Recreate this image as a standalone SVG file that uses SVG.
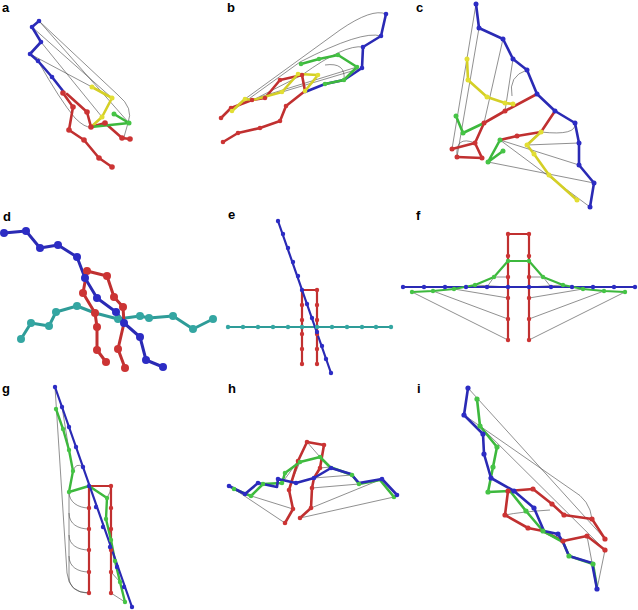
<svg xmlns="http://www.w3.org/2000/svg" width="638" height="610" viewBox="0 0 638 610">
<style>
.lbl{font-family:"Liberation Sans",Arial,sans-serif;font-weight:bold;font-size:13px;fill:#000}
.g{fill:none;stroke:#444;stroke-width:0.6}
.t{fill:none;stroke-width:2.6;stroke-linejoin:round;stroke-linecap:round}
.tb{stroke:#2a2ab4}.tr{stroke:#c03030}.ty{stroke:#d4cf26}.tg{stroke:#3db83d}.tt{stroke:#2e9c98}
.bb circle{fill:#2c2cc4}.br circle{fill:#cc3434}.by circle{fill:#e2de34}.bg circle{fill:#46c446}.bt circle{fill:#34a6a2}
</style>
<rect width="638" height="610" fill="#fff"/>
<g id="labels">
<text class="lbl" x="2" y="12">a</text><text class="lbl" x="227" y="12">b</text><text class="lbl" x="416" y="12">c</text>
<text class="lbl" x="3" y="221">d</text><text class="lbl" x="228" y="219">e</text><text class="lbl" x="416" y="220">f</text>
<text class="lbl" x="2" y="393">g</text><text class="lbl" x="228" y="393">h</text><text class="lbl" x="417" y="393">i</text>
</g>
<!-- panel a -->
<g id="panel-a">
<path class="g" d="M39,21 L118,95 Q134,108 128,123 L124,137 M32,27 L112,98 M41,42 L102,117 M30,54 L92,87 M38,61 Q60,100 75,118 Q85,128 91,127 M39,21 L129,123"/>
<polyline class="t tb" points="39,21 32,27 41,42 30,54 38,61 52,77 63,91"/>
<polyline class="t tr" points="63,93 73,107 69,130 84,140 99,158 112,167"/>
<polyline class="t tr" points="67,94 87,112 91,127 105,123 122,138 130,139"/>
<polyline class="t ty" points="92,87 112,98 102,117 91,127"/>
<polyline class="t tg" points="114,114 129,123 91,127"/>
<g class="bb"><circle cx="39" cy="21" r="2.3"/><circle cx="32" cy="27" r="2.3"/><circle cx="41" cy="42" r="2.3"/><circle cx="30" cy="54" r="2.3"/><circle cx="38" cy="61" r="2.3"/><circle cx="52" cy="77" r="2.3"/></g>
<g class="br"><circle cx="63" cy="93" r="2.8"/><circle cx="73" cy="107" r="2.8"/><circle cx="69" cy="130" r="2.8"/><circle cx="84" cy="140" r="2.8"/><circle cx="99" cy="158" r="2.8"/><circle cx="112" cy="167" r="2.8"/><circle cx="87" cy="112" r="2.8"/><circle cx="91" cy="127" r="2.8"/><circle cx="105" cy="123" r="2.8"/><circle cx="122" cy="138" r="2.8"/><circle cx="130" cy="139" r="2.8"/></g>
<g class="by"><circle cx="92" cy="87" r="2.5"/><circle cx="112" cy="98" r="2.5"/><circle cx="102" cy="117" r="2.5"/></g>
<g class="bg"><circle cx="114" cy="114" r="2.5"/><circle cx="129" cy="123" r="2.5"/></g>
</g>
<!-- panel b -->
<g id="panel-b">
<path class="g" d="M386,14 Q372,8 340,30 L245,99 M381,36 Q362,30 300,62 L232,111 M363,47 Q345,44 302,75 L253,100 M357,67 L260,97 M325,65 Q346,62 344,80 M362,68 L282,92"/>
<polyline class="t tb" points="386,14 381,36 363,47 362,68 344,80 325,84 305,92"/>
<polyline class="t tg" points="301,64 319,59 338,55 357,67 344,80 325,84"/>
<polyline class="t tr" points="302,75 305,91 286,106 280,121 260,128 238,133 223,142"/>
<polyline class="t tr" points="302,75 280,80 265,98 252,100 231,108 221,118"/>
<polyline class="t ty" points="318,75 298,74 282,92 253,100 245,99 232,111"/>
<polyline class="t ty" points="318,75 305,91"/>
<g class="bb"><circle cx="386" cy="14" r="2.3"/><circle cx="381" cy="36" r="2.3"/><circle cx="363" cy="47" r="2.3"/><circle cx="362" cy="68" r="2.3"/></g>
<g class="bg"><circle cx="301" cy="64" r="2.3"/><circle cx="319" cy="59" r="2.3"/><circle cx="338" cy="55" r="2.3"/><circle cx="357" cy="67" r="2.3"/><circle cx="344" cy="80" r="2.3"/><circle cx="325" cy="84" r="2.3"/></g>
<g class="br"><circle cx="302" cy="75" r="2.3"/><circle cx="286" cy="106" r="2.3"/><circle cx="280" cy="121" r="2.3"/><circle cx="260" cy="128" r="2.3"/><circle cx="238" cy="133" r="2.3"/><circle cx="223" cy="142" r="2.3"/><circle cx="280" cy="80" r="2.3"/><circle cx="265" cy="98" r="2.3"/><circle cx="252" cy="100" r="2.3"/><circle cx="231" cy="108" r="2.3"/><circle cx="221" cy="118" r="2.3"/></g>
<g class="by"><circle cx="318" cy="75" r="2.3"/><circle cx="298" cy="74" r="2.3"/><circle cx="282" cy="92" r="2.3"/><circle cx="245" cy="99" r="2.3"/><circle cx="232" cy="111" r="2.3"/><circle cx="305" cy="91" r="2.3"/></g>
</g>
<!-- panel c -->
<g id="panel-c">
<path class="g" d="M476,4 L452,149 M479,28 L457,157 M503,39 L484,123 M513,59 L505,111 M527,70 Q508,76 512,96 M575,123 Q577,136 541,132 M579,143 L527,145 M579,165 L500,140 M594,183 L488,162 M590,207 L500,140 M475,143 Q455,135 457,157 M541,132 Q530,140 527,145"/>
<polyline class="t tb" points="476,4 479,28 503,39 513,59 527,70 537,94 555,111 575,123 579,143 579,165 594,183 590,207"/>
<polyline class="t ty" points="467,59 468,80 487,97 505,103 513,104"/>
<polyline class="t tr" points="537,94 505,111 484,123 475,143 452,149"/>
<polyline class="t tr" points="555,111 541,132 517,136 500,140"/>
<polyline class="t tr" points="475,143 482,158 457,157"/>
<polyline class="t tg" points="456,116 463,133 484,123"/>
<polyline class="t tg" points="500,140 488,162 503,151"/>
<polyline class="t ty" points="541,132 527,145 534,154 549,175 577,200"/>
<g class="bb"><circle cx="476" cy="4" r="2.5"/><circle cx="479" cy="28" r="2.5"/><circle cx="503" cy="39" r="2.5"/><circle cx="513" cy="59" r="2.5"/><circle cx="527" cy="70" r="2.5"/><circle cx="537" cy="94" r="2.5"/><circle cx="555" cy="111" r="2.5"/><circle cx="575" cy="123" r="2.5"/><circle cx="579" cy="143" r="2.5"/><circle cx="579" cy="165" r="2.5"/><circle cx="594" cy="183" r="2.5"/><circle cx="590" cy="207" r="2.5"/></g>
<g class="by"><circle cx="467" cy="59" r="2.5"/><circle cx="468" cy="80" r="2.5"/><circle cx="487" cy="97" r="2.5"/><circle cx="505" cy="103" r="2.5"/><circle cx="513" cy="104" r="2.5"/><circle cx="541" cy="132" r="2.5"/><circle cx="527" cy="145" r="2.5"/><circle cx="534" cy="154" r="2.5"/><circle cx="549" cy="175" r="2.5"/><circle cx="577" cy="200" r="2.5"/></g>
<g class="br"><circle cx="505" cy="111" r="2.5"/><circle cx="484" cy="123" r="2.5"/><circle cx="475" cy="143" r="2.5"/><circle cx="452" cy="149" r="2.5"/><circle cx="517" cy="136" r="2.5"/><circle cx="482" cy="158" r="2.5"/><circle cx="457" cy="157" r="2.5"/></g>
<g class="bg"><circle cx="456" cy="116" r="2.5"/><circle cx="463" cy="133" r="2.5"/><circle cx="500" cy="140" r="2.5"/><circle cx="488" cy="162" r="2.5"/><circle cx="503" cy="151" r="2.5"/></g>
</g>
<!-- panel d -->
<g id="panel-d">
<polyline class="t tt" style="stroke-width:3" points="21,339 31,323 49,326 56,312 77,306 95,313 118,319 140,316 149,318 173,316 193,329 213,319"/>
<polyline class="t tr" style="stroke-width:3" points="87,271 107,276 114,297 123,307 124,323 118,349 125,368"/>
<polyline class="t tr" style="stroke-width:3" points="87,271 83,293 95,313 97,327 97,350 106,362"/>
<polyline class="t tb" style="stroke-width:3" points="4,233 26,231 40,248 58,245 77,257 85,278 97,298 116,312 124,323 140,337 146,360 163,367"/>
<g class="bt"><circle cx="21" cy="339" r="4"/><circle cx="31" cy="323" r="4"/><circle cx="49" cy="326" r="4"/><circle cx="56" cy="312" r="4"/><circle cx="77" cy="306" r="4"/><circle cx="118" cy="319" r="4"/><circle cx="140" cy="316" r="4"/><circle cx="149" cy="318" r="4"/><circle cx="173" cy="316" r="4"/><circle cx="193" cy="329" r="4"/><circle cx="213" cy="319" r="4"/></g>
<g class="br"><circle cx="87" cy="271" r="4"/><circle cx="107" cy="276" r="4"/><circle cx="114" cy="297" r="4"/><circle cx="123" cy="307" r="4"/><circle cx="118" cy="349" r="4"/><circle cx="125" cy="368" r="4"/><circle cx="83" cy="293" r="4"/><circle cx="95" cy="313" r="4"/><circle cx="97" cy="327" r="4"/><circle cx="97" cy="350" r="4"/><circle cx="106" cy="362" r="4"/></g>
<g class="bb"><circle cx="4" cy="233" r="4"/><circle cx="26" cy="231" r="4"/><circle cx="40" cy="248" r="4"/><circle cx="58" cy="245" r="4"/><circle cx="77" cy="257" r="4"/><circle cx="85" cy="278" r="4"/><circle cx="97" cy="298" r="4"/><circle cx="116" cy="312" r="4"/><circle cx="124" cy="323" r="4"/><circle cx="140" cy="337" r="4"/><circle cx="146" cy="360" r="4"/><circle cx="163" cy="367" r="4"/></g>
</g>
<!-- panel e -->
<g id="panel-e">
<polyline class="t tt" style="stroke-width:2.2" points="228,327 391,327"/>
<polyline class="t tr" style="stroke-width:2.2" points="302,364 302,290 317,290 317,364"/>
<polyline class="t tb" style="stroke-width:2.2" points="278,221 331,373"/>
<g class="bt"><circle cx="228" cy="327" r="2.2"/><circle cx="243" cy="327" r="2.2"/><circle cx="258" cy="327" r="2.2"/><circle cx="273" cy="327" r="2.2"/><circle cx="288" cy="327" r="2.2"/><circle cx="302" cy="327" r="2.2"/><circle cx="317" cy="327" r="2.2"/><circle cx="332" cy="327" r="2.2"/><circle cx="347" cy="327" r="2.2"/><circle cx="362" cy="327" r="2.2"/><circle cx="376" cy="327" r="2.2"/><circle cx="391" cy="327" r="2.2"/></g>
<g class="br"><circle cx="302" cy="305" r="2.2"/><circle cx="302" cy="320" r="2.2"/><circle cx="302" cy="334" r="2.2"/><circle cx="302" cy="349" r="2.2"/><circle cx="302" cy="364" r="2.2"/><circle cx="317" cy="290" r="2.2"/><circle cx="317" cy="305" r="2.2"/><circle cx="317" cy="320" r="2.2"/><circle cx="317" cy="334" r="2.2"/><circle cx="317" cy="349" r="2.2"/><circle cx="317" cy="364" r="2.2"/></g>
<g class="bb"><circle cx="278" cy="221" r="2.2"/><circle cx="283" cy="234" r="2.2"/><circle cx="288" cy="248" r="2.2"/><circle cx="293" cy="262" r="2.2"/><circle cx="298" cy="276" r="2.2"/><circle cx="302" cy="290" r="2.2"/><circle cx="307" cy="304" r="2.2"/><circle cx="312" cy="318" r="2.2"/><circle cx="317" cy="332" r="2.2"/><circle cx="322" cy="346" r="2.2"/><circle cx="326" cy="359" r="2.2"/><circle cx="331" cy="373" r="2.2"/></g>
</g>
<!-- panel f -->
<g id="panel-f">
<path class="g" d="M412,292 L508,340 M433,291 L508,319 M454,289 L508,298 M475,285 L508,287 M487,287 L494,277 M494,277 L508,277 M625,292 L529,340 M604,291 L529,319 M583,289 L529,298 M563,285 L529,287 M551,287 L543,277 M543,277 L529,277"/>
<polyline class="t tr" style="stroke-width:2.2" points="508,340 508,234 529,234 529,340"/>
<polyline class="t tb" style="stroke-width:2.2" points="403,287 635,287"/>
<polyline class="t tg" style="stroke-width:2.2" points="412,292 433,291 454,289 475,285 494,277 508,261 529,261 543,277 563,285 583,289 604,291 625,292"/>
<g class="br"><circle cx="508" cy="234" r="2.2"/><circle cx="508" cy="256" r="2.2"/><circle cx="508" cy="277" r="2.2"/><circle cx="508" cy="298" r="2.2"/><circle cx="508" cy="319" r="2.2"/><circle cx="508" cy="340" r="2.2"/><circle cx="529" cy="234" r="2.2"/><circle cx="529" cy="256" r="2.2"/><circle cx="529" cy="277" r="2.2"/><circle cx="529" cy="298" r="2.2"/><circle cx="529" cy="319" r="2.2"/><circle cx="529" cy="340" r="2.2"/></g>
<g class="bb"><circle cx="403" cy="287" r="2.2"/><circle cx="424" cy="287" r="2.2"/><circle cx="445" cy="287" r="2.2"/><circle cx="466" cy="287" r="2.2"/><circle cx="487" cy="287" r="2.2"/><circle cx="508" cy="287" r="2.2"/><circle cx="529" cy="287" r="2.2"/><circle cx="551" cy="287" r="2.2"/><circle cx="572" cy="287" r="2.2"/><circle cx="593" cy="287" r="2.2"/><circle cx="614" cy="287" r="2.2"/><circle cx="635" cy="287" r="2.2"/></g>
<g class="bg"><circle cx="412" cy="292" r="2.2"/><circle cx="433" cy="291" r="2.2"/><circle cx="454" cy="289" r="2.2"/><circle cx="475" cy="285" r="2.2"/><circle cx="494" cy="277" r="2.2"/><circle cx="508" cy="261" r="2.2"/><circle cx="529" cy="261" r="2.2"/><circle cx="543" cy="277" r="2.2"/><circle cx="563" cy="285" r="2.2"/><circle cx="583" cy="289" r="2.2"/><circle cx="604" cy="291" r="2.2"/><circle cx="625" cy="292" r="2.2"/></g>
</g>
<!-- panel g -->
<g id="panel-g">
<path class="g" d="M55,387 L67,573 Q69,593 89,593 M62,407 L69,450 M69,492 C69,502 78,508 89,508 M69,492 L69,513 C69,524 78,529 89,529 M69,513 L69,535 C69,545 78,550 89,550 M69,535 L69,556 C69,567 78,572 89,572 M69,556 L69,577 C69,588 78,593 89,593 M73,471 Q76,462 83,467 M107,498 Q111,492 111,486 M120,582 L111,572 M125,602 L111,593"/>
<polyline class="t tr" style="stroke-width:2.2" points="89,593 89,486 111,486 111,593"/>
<polyline class="t tg" style="stroke-width:2.4" points="56,409 63,429 69,450 73,471 69,492 89,486 107,498 106,519 111,540 115,561 120,582 125,602"/>
<polyline class="t tb" style="stroke-width:2.2" points="55,387 132,607"/>
<g class="br"><circle cx="89" cy="508" r="2.2"/><circle cx="89" cy="529" r="2.2"/><circle cx="89" cy="550" r="2.2"/><circle cx="89" cy="572" r="2.2"/><circle cx="89" cy="593" r="2.2"/><circle cx="111" cy="486" r="2.2"/><circle cx="111" cy="508" r="2.2"/><circle cx="111" cy="529" r="2.2"/><circle cx="111" cy="550" r="2.2"/><circle cx="111" cy="572" r="2.2"/><circle cx="111" cy="593" r="2.2"/></g>
<g class="bg"><circle cx="56" cy="409" r="2.2"/><circle cx="63" cy="429" r="2.2"/><circle cx="69" cy="450" r="2.2"/><circle cx="73" cy="471" r="2.2"/><circle cx="69" cy="492" r="2.2"/><circle cx="107" cy="498" r="2.2"/><circle cx="106" cy="519" r="2.2"/><circle cx="111" cy="540" r="2.2"/><circle cx="115" cy="561" r="2.2"/><circle cx="120" cy="582" r="2.2"/><circle cx="125" cy="602" r="2.2"/></g>
<g class="bb"><circle cx="55" cy="387" r="2.2"/><circle cx="62" cy="407" r="2.2"/><circle cx="69" cy="427" r="2.2"/><circle cx="76" cy="447" r="2.2"/><circle cx="83" cy="467" r="2.2"/><circle cx="89" cy="486" r="2.2"/><circle cx="96" cy="507" r="2.2"/><circle cx="103" cy="527" r="2.2"/><circle cx="110" cy="547" r="2.2"/><circle cx="117" cy="567" r="2.2"/><circle cx="124" cy="587" r="2.2"/><circle cx="132" cy="607" r="2.2"/></g>
</g>
<!-- panel h -->
<g id="panel-h">
<path class="g" d="M234,489 L285,523 M245,494 L293,509 M394,497 L300,518 M382,479 L311,508 M359,484 L312,488 M352,475 L314,478 M282,483 L298,461 M300,462 L293,478 M320,457 L307,442 M330,467 L320,468"/>
<polyline class="t tr" points="285,523 293,509 289,490 298,461 307,442 324,445 320,468 314,478 312,488 311,508 300,518"/>
<polyline class="t tg" points="234,489 251,496 263,484 282,483 285,473 300,462 320,457 330,467 352,475 359,484 380,480 394,497"/>
<polyline class="t tb" points="229,486 245,494 258,483 277,487 278,479 296,483 314,478 331,468 351,474 359,483 382,479 397,495"/>
<g class="br"><circle cx="285" cy="523" r="2.3"/><circle cx="293" cy="509" r="2.3"/><circle cx="289" cy="490" r="2.3"/><circle cx="298" cy="461" r="2.3"/><circle cx="307" cy="442" r="2.3"/><circle cx="324" cy="445" r="2.3"/><circle cx="320" cy="468" r="2.3"/><circle cx="312" cy="488" r="2.3"/><circle cx="311" cy="508" r="2.3"/><circle cx="300" cy="518" r="2.3"/></g>
<g class="bg"><circle cx="234" cy="489" r="2.3"/><circle cx="251" cy="496" r="2.3"/><circle cx="263" cy="484" r="2.3"/><circle cx="282" cy="483" r="2.3"/><circle cx="285" cy="473" r="2.3"/><circle cx="300" cy="462" r="2.3"/><circle cx="320" cy="457" r="2.3"/><circle cx="352" cy="475" r="2.3"/><circle cx="359" cy="484" r="2.3"/><circle cx="394" cy="497" r="2.3"/></g>
<g class="bb"><circle cx="229" cy="486" r="2.3"/><circle cx="245" cy="494" r="2.3"/><circle cx="258" cy="483" r="2.3"/><circle cx="278" cy="479" r="2.3"/><circle cx="296" cy="483" r="2.3"/><circle cx="314" cy="478" r="2.3"/><circle cx="331" cy="468" r="2.3"/><circle cx="382" cy="479" r="2.3"/><circle cx="397" cy="495" r="2.3"/></g>
</g>
<!-- panel i -->
<g id="panel-i">
<path class="g" d="M468,388 L605,539 M464,415 L572,490 Q590,500 592,519 M480,426 L605,550 M505,515 Q520,512 550,510 M597,589 L605,550 M597,589 L587,536"/>
<polyline class="t tr" points="508,491 533,489 552,504 564,515 592,519 605,539"/>
<polyline class="t tr" points="508,491 505,515 528,528 543,531 563,541 587,536 605,550"/>
<polyline class="t tg" points="477,399 480,426 497,447 493,467 488,492 510,491 526,511 543,531 563,542 569,556 593,564 597,588"/>
<polyline class="t tb" points="468,388 464,415 483,434 484,454 491,478 514,491 534,508 544,531 558,534 563,542 569,556 592,563 597,589"/>
<g class="br"><circle cx="533" cy="489" r="2.6"/><circle cx="552" cy="504" r="2.6"/><circle cx="564" cy="515" r="2.6"/><circle cx="592" cy="519" r="2.6"/><circle cx="605" cy="539" r="2.6"/><circle cx="505" cy="515" r="2.6"/><circle cx="528" cy="528" r="2.6"/><circle cx="563" cy="541" r="2.6"/><circle cx="587" cy="536" r="2.6"/><circle cx="605" cy="550" r="2.6"/><circle cx="508" cy="491" r="2.6"/></g>
<g class="bg"><circle cx="477" cy="399" r="2.6"/><circle cx="480" cy="426" r="2.6"/><circle cx="497" cy="447" r="2.6"/><circle cx="493" cy="467" r="2.6"/><circle cx="488" cy="492" r="2.6"/><circle cx="526" cy="511" r="2.6"/><circle cx="543" cy="531" r="2.6"/><circle cx="569" cy="556" r="2.6"/><circle cx="593" cy="564" r="2.6"/></g>
<g class="bb"><circle cx="468" cy="388" r="2.6"/><circle cx="464" cy="415" r="2.6"/><circle cx="483" cy="434" r="2.6"/><circle cx="484" cy="454" r="2.6"/><circle cx="491" cy="478" r="2.6"/><circle cx="514" cy="491" r="2.6"/><circle cx="534" cy="508" r="2.6"/><circle cx="558" cy="534" r="2.6"/><circle cx="597" cy="589" r="2.6"/></g>
</g>
</svg>
